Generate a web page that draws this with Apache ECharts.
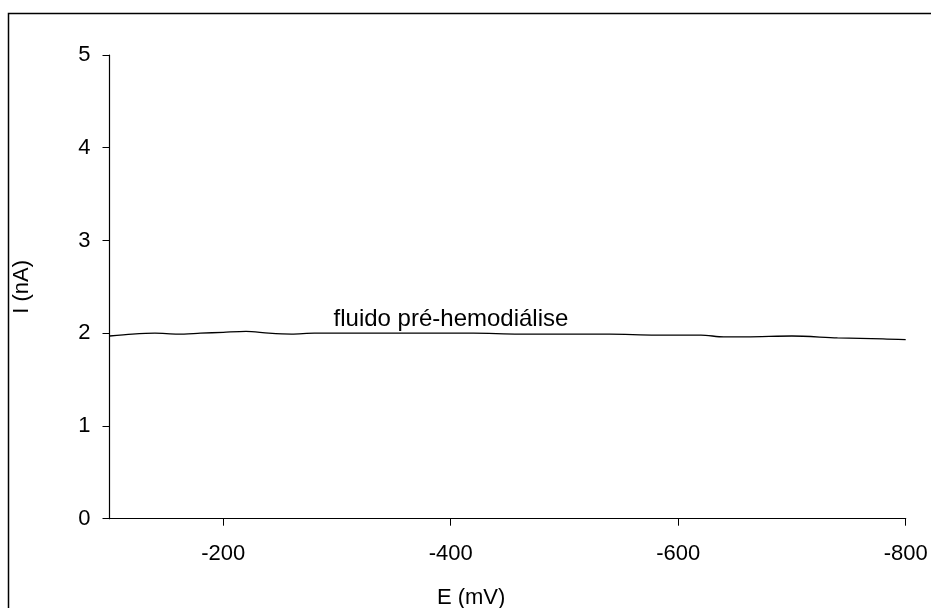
<!DOCTYPE html>
<html>
<head>
<meta charset="utf-8">
<script src="https://cdn.jsdelivr.net/npm/echarts@6/dist/echarts.min.js"></script>
<style>
  html, body { margin: 0; padding: 0; background: #fff; }
  #main { width: 931px; height: 608px; }
</style>
</head>
<body>
<div id="main"></div>
<script>
// potencial (mV) e corrente (nA)
const potential = [-100, -120, -140, -160, -180, -200, -220, -240, -260, -280, -300,
  -340, -380, -420, -460, -500, -540, -580, -620, -640, -660, -700, -740, -780, -800];
const current = [1.97, 1.99, 2.00, 1.99, 2.00, 2.01, 2.02, 2.00, 1.99, 2.00, 2.00,
  2.00, 2.00, 2.00, 1.99, 1.99, 1.99, 1.98, 1.98, 1.96, 1.96, 1.97, 1.95, 1.94, 1.93];
const xTicks = [-200, -400, -600, -800];
const seriesLabel = "fluido pré-hemodiálise";
const labelAt = [-297, 2.15];

const font = "Liberation Sans, Arial, sans-serif";
let myChart = echarts.init(document.getElementById("main"));
myChart.setOption({
  animation: false,
  backgroundColor: "#fff",
  graphic: [{
    type: "rect",
    shape: { x: 8.5, y: 13.5, width: 1000, height: 700 },
    style: { fill: "none", stroke: "#000", lineWidth: 1.5 },
    silent: true
  }],
  grid: { left: 109.5, right: 25.3, top: 55, bottom: 89.3, outerBoundsMode: "none", containLabel: false },
  xAxis: {
    type: "value",
    min: -800,
    max: -100,
    inverse: true,
    name: "E (mV)",
    nameLocation: "middle",
    nameGap: 68,
    nameTextStyle: { color: "#000", fontSize: 22, fontFamily: font, padding: [0, 73, 0, 0] },
    axisLine: { show: true, lineStyle: { color: "#000", width: 1.2 } },
    axisTick: { show: true, length: 7, customValues: xTicks, lineStyle: { color: "#000" } },
    axisLabel: { customValues: xTicks, color: "#000", fontSize: 22, fontFamily: font, margin: 24 },
    splitLine: { show: false }
  },
  yAxis: {
    type: "value",
    min: 0,
    max: 5,
    interval: 1,
    name: "I (nA)",
    nameLocation: "middle",
    nameGap: 77,
    nameTextStyle: { color: "#000", fontSize: 22, fontFamily: font },
    axisLine: { show: true, lineStyle: { color: "#000", width: 1.2 } },
    axisTick: { show: true, length: 7, lineStyle: { color: "#000" } },
    axisLabel: { color: "#000", fontSize: 22, fontFamily: font, margin: 19 },
    splitLine: { show: false }
  },
  series: [{
    type: "line",
    data: potential.map((e, i) => [e, current[i]]),
    showSymbol: false,
    smooth: 0.3,
    lineStyle: { color: "#000", width: 1.3 },
    markPoint: {
      symbol: "circle",
      symbolSize: 0,
      data: [{ coord: labelAt }],
      label: {
        show: true,
        position: "right",
        distance: 0,
        formatter: seriesLabel,
        color: "#000",
        fontSize: 24,
        fontFamily: font
      }
    }
  }]
});
</script>
</body>
</html>
